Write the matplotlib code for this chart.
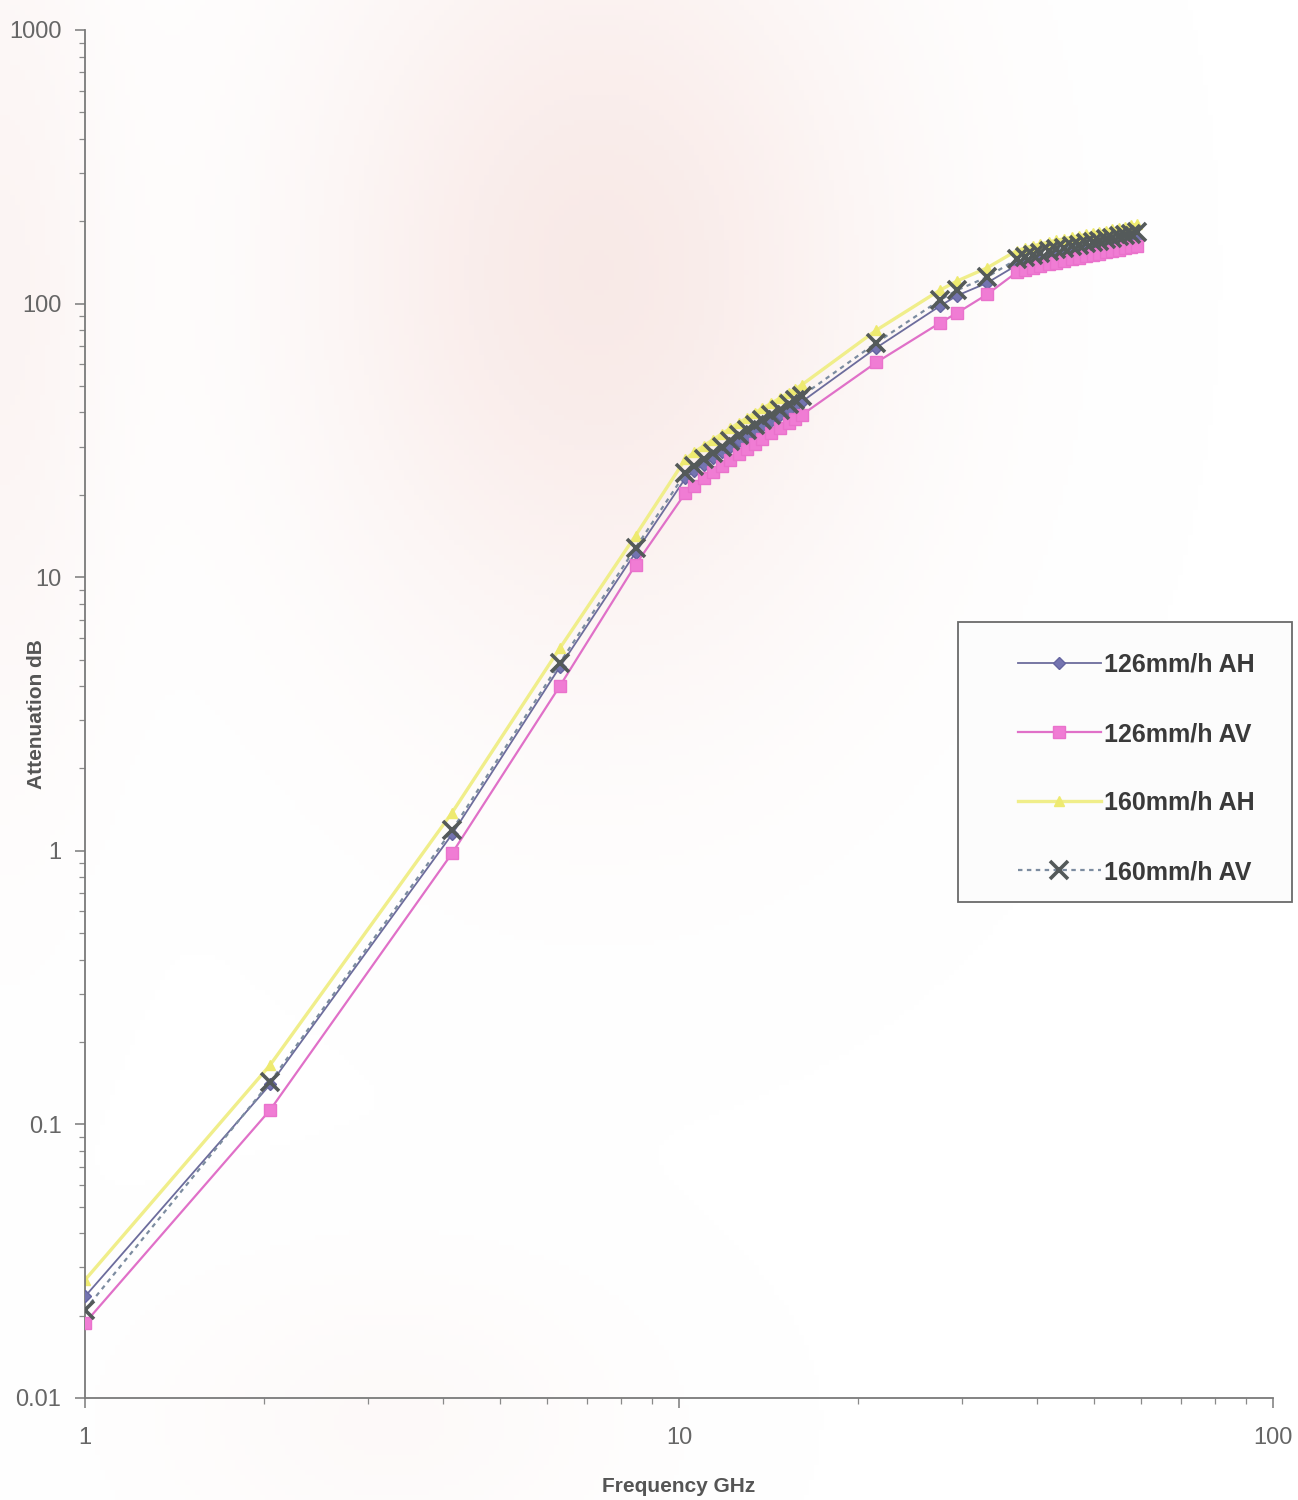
import matplotlib
matplotlib.use("Agg")
import matplotlib.pyplot as plt
import numpy as np
from matplotlib.patches import Rectangle
from matplotlib.ticker import LogLocator, NullFormatter, FixedLocator, FixedFormatter

# Frequency points (GHz)
freq = [1, 2.05, 4.15, 6.3, 8.45,
        10.25, 10.6, 11.0, 11.4, 11.8, 12.2, 12.6, 13.0, 13.4, 13.8, 14.3, 14.8, 15.3, 15.7, 16.1,
        21.5, 27.5, 29.4, 33.0,
        37, 38.2, 39.4, 40.6, 41.9, 43.2, 44.5, 45.8, 47.1, 48.4, 49.7, 51, 52.3, 53.6, 55, 56.4, 57.7, 59]

# Attenuation (dB)
att_126_ah = [0.0235, 0.14, 1.15, 4.7, 12.3,
              23, 24.4, 25.8, 27.2, 28.6, 30, 31.4, 32.8, 34.2, 35.6, 37.2, 39, 40.8, 42.3, 43.8,
              69, 98, 107, 119,
              138, 141, 143.5, 146, 148.5, 150.5, 152.5, 154.5, 156.5, 158.5, 160.5, 162, 164, 166, 168, 170, 171.5, 173]
att_126_av = [0.0188, 0.113, 0.98, 4.0, 11.1,
              20.3, 21.6, 23, 24.3, 25.6, 26.9, 28.2, 29.5, 30.8, 32.1, 33.6, 35.1, 36.6, 37.9, 39.2,
              61, 85, 92.5, 108,
              130, 132.5, 135, 137, 139, 141, 143, 145, 147, 149, 150.5, 152, 154, 155.5, 157, 159, 160.5, 162]
att_160_ah = [0.027, 0.165, 1.38, 5.5, 14.2,
              27, 28.6, 30.2, 31.8, 33.4, 35, 36.6, 38.2, 39.8, 41.4, 43.2, 45.2, 47.2, 48.8, 50.5,
              80, 112, 121, 135,
              156, 159.5, 162.5, 165, 168, 170.5, 172.5, 175, 177, 179, 181, 183, 185, 187, 189, 191, 193, 195]
att_160_av = [0.021, 0.143, 1.19, 4.86, 12.8,
              24, 25.5, 27, 28.5, 30, 31.5, 33, 34.5, 36, 37.5, 39, 41, 43, 44.5, 46,
              72, 103, 112, 125,
              145, 148, 151, 153, 156, 158, 160, 162, 164, 166, 168, 170, 172, 174, 176, 178, 180, 182]

x_ticks = [1, 10, 100]
x_labels = ['1', '10', '100']
y_ticks = [0.01, 0.1, 1, 10, 100, 1000]
y_labels = ['0.01', '0.1', '1', '10', '100', '1000']

W, H = 1298, 1500
fig = plt.figure(figsize=(W / 100, H / 100), dpi=100)

# warm paper tint behind the chart, strongest towards the top
bg = fig.add_axes([0, 0, 1, 1], zorder=0)
gx, gy = np.meshgrid(np.linspace(0, 1, 260), np.linspace(1, 0, 300))
blob = np.exp(-(((gx - 0.46) / 0.22) ** 2 + ((gy - 0.82) / 0.26) ** 2))
blob += 0.5 * np.exp(-(((gx - 0.0) / 0.08) ** 2 + ((gy - 0.80) / 0.30) ** 2))
blob += 0.25 * np.exp(-(((gx - 0.30) / 0.18) ** 2 + ((gy - 0.05) / 0.10) ** 2))
tint = np.ones((300, 260, 4))
tint[..., 0] = 0.95
tint[..., 1] = 0.83
tint[..., 2] = 0.81
tint[..., 3] = np.clip(0.48 * blob, 0, 1)
bg.imshow(tint, extent=[0, 1, 0, 1], aspect='auto')
bg.set_xlim(0, 1)
bg.set_ylim(0, 1)
bg.axis('off')

ax = fig.add_axes([85 / W, 1 - 1398 / H, 1188 / W, 1368 / H], zorder=1)
ax.set_facecolor('none')

ax.plot(freq, att_160_ah, color='#f0ee8a', lw=2.4, marker='^', ms=7,
        mfc='#eeea70', mec='#eeea70', label='160mm/h AH', zorder=2)
ax.plot(freq, att_126_ah, color='#6c6c9c', lw=1.3, marker='D', ms=6,
        mfc='#7474b0', mec='#6464a0', label='126mm/h AH', zorder=3)
ax.plot(freq, att_126_av, color='#e070c8', lw=1.6, marker='s', ms=8,
        mfc='#f07cd4', mec='#ea72cc', label='126mm/h AV', zorder=3)
ax.plot(freq, att_160_av, color='#7c8ca0', lw=1.6, ls=(0, (2, 2)), marker='x', ms=13,
        mew=2.6, mec='#545a5a', label='160mm/h AV', zorder=4)

ax.set_xscale('log')
ax.set_yscale('log')
ax.set_xlim(1, 100)
ax.set_ylim(0.01, 1000)

ax.xaxis.set_major_locator(FixedLocator(x_ticks))
ax.xaxis.set_major_formatter(FixedFormatter(x_labels))
ax.yaxis.set_major_locator(FixedLocator(y_ticks))
ax.yaxis.set_major_formatter(FixedFormatter(y_labels))
ax.xaxis.set_minor_locator(LogLocator(base=10, subs=np.arange(2, 10)))
ax.yaxis.set_minor_locator(LogLocator(base=10, subs=np.arange(2, 10)))
ax.xaxis.set_minor_formatter(NullFormatter())
ax.yaxis.set_minor_formatter(NullFormatter())

for side in ['top', 'right']:
    ax.spines[side].set_visible(False)
for side in ['left', 'bottom']:
    ax.spines[side].set_color('#7a7a7a')
    ax.spines[side].set_linewidth(1.3)

ax.tick_params(which='major', direction='out', length=7, width=1.1, color='#7a7a7a',
               labelsize=17, labelcolor='#666666')
ax.tick_params(axis='x', which='major', pad=14)
ax.tick_params(axis='y', which='major', pad=10)
ax.tick_params(which='minor', direction='out', length=4, width=0.9, color='#8a8a8a')
for lbl in ax.get_xticklabels() + ax.get_yticklabels():
    lbl.set_family('Liberation Sans')

ax.set_xlabel('Frequency GHz', fontsize=15, fontweight='bold', color='#555555',
              family='Liberation Sans', labelpad=20)
ax.set_ylabel('Attenuation dB', fontsize=15, fontweight='bold', color='#555555',
              family='Liberation Sans')
ax.yaxis.set_label_coords(-0.033, 0.5)

# legend box drawn separately so the entries can sit to its right
box = Rectangle((958 / W, 1 - 902 / H), (1292 - 958) / W, 280 / H,
                transform=fig.transFigure, facecolor='#fcfcfc',
                edgecolor='#6a6a6a', linewidth=1.3, zorder=5, clip_on=False)
ax.add_artist(box)

handles, labels = ax.get_legend_handles_labels()
order = [1, 2, 0, 3]
leg = ax.legend([handles[i] for i in order], [labels[i] for i in order],
                loc='upper left', bbox_to_anchor=(1018 / W, 1 - 653 / H),
                bbox_transform=fig.transFigure, frameon=False,
                prop={'family': 'Liberation Sans', 'weight': 'bold', 'size': 18},
                labelspacing=1.8, borderpad=0, handlelength=3.3, handletextpad=0.12,
                borderaxespad=0)
leg.set_zorder(6)
for t in leg.get_texts():
    t.set_color('#3a3a3a')

fig.savefig('out.png', dpi=100)
